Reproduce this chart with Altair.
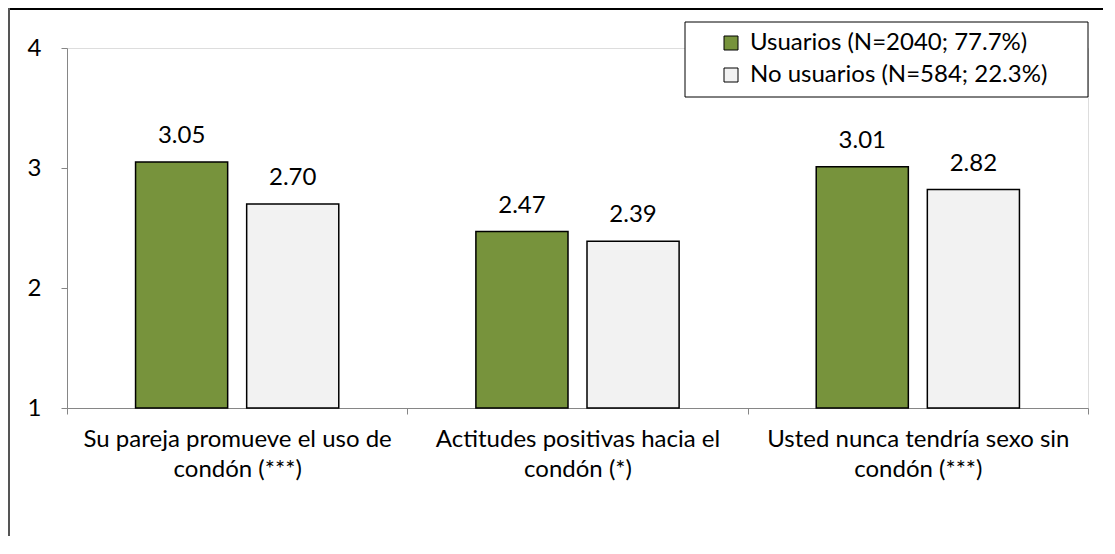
import altair as alt
import pandas as pd

categories = [
    "Su pareja promueve el uso de|condón (***)",
    "Actitudes positivas hacia el|condón (*)",
    "Usted nunca tendría sexo sin|condón (***)",
]
series = ["Usuarios (N=2040; 77.7%)", "No usuarios (N=584; 22.3%)"]
usuarios = [3.05, 2.47, 3.01]
no_usuarios = [2.70, 2.39, 2.82]
y_ticks = [1, 2, 3, 4]

rows = []
for c, a, b in zip(categories, usuarios, no_usuarios):
    rows.append({"cat": c, "serie": series[0], "value": a})
    rows.append({"cat": c, "serie": series[1], "value": b})
df = pd.DataFrame(rows)

FONT = "Lato"
FS = 24
W, H = 1021, 360

x = alt.X("cat:N", sort=categories, title=None,
          scale=alt.Scale(paddingInner=0, paddingOuter=0),
          axis=alt.Axis(labelAngle=0, labelExpr="split(datum.label, '|')",
                        labelFontSize=FS, labelFont=FONT, labelColor="#000000",
                        labelPadding=13, labelLineHeight=30, labelLimit=400,
                        tickBand="extent", tickSize=6, tickColor="#868686",
                        domainColor="#868686", labelBaseline="top"))
xo = alt.XOffset("serie:N", sort=series,
                 scale=alt.Scale(paddingInner=0.171, paddingOuter=0.617))
y = alt.Y("value:Q", title=None,
          scale=alt.Scale(domain=[1, 4], zero=False, nice=False),
          axis=alt.Axis(values=y_ticks, format="d", grid=False, labelFontSize=FS,
                        labelFont=FONT, labelColor="#000000", labelPadding=20,
                        tickSize=6, tickColor="#868686", domainColor="#868686"))
color = alt.Color("serie:N", sort=series,
                  scale=alt.Scale(domain=series, range=["#77933C", "#F2F2F2"]),
                  legend=alt.Legend(title=None, orient="none", legendX=652, legendY=-17,
                                    symbolType="square", symbolSize=196,
                                    symbolStrokeColor="#000000", symbolStrokeWidth=1,
                                    labelFontSize=FS, labelFont=FONT, labelColor="#000000",
                                    rowPadding=8, padding=0, labelOffset=7, labelLimit=400))

base = alt.Chart(df)
bars = base.mark_bar(stroke="#000000", strokeWidth=1.5).encode(
    x=x, xOffset=xo, y=y, y2=alt.datum(1), color=color)
labels = base.mark_text(fontSize=FS, font=FONT, color="#000000", baseline="alphabetic", dy=-19).encode(
    x=x, xOffset=xo, y=y, text=alt.Text("value:Q", format=".2f"))

one = pd.DataFrame({"a": [0]})
legend_box = alt.Chart(one).mark_rect(fill="#FFFFFF", stroke="#000000", strokeWidth=1).encode(
    x=alt.value(618), x2=alt.value(1021), y=alt.value(-26), y2=alt.value(49))
top_border = alt.Chart(one).mark_rule(color="#000000", strokeWidth=2).encode(
    x=alt.value(-59), x2=alt.value(1040), y=alt.value(-39))
left_border = alt.Chart(one).mark_rule(color="#555555", strokeWidth=2).encode(
    x=alt.value(-58), y=alt.value(-40), y2=alt.value(500))

chart = alt.layer(top_border, left_border, legend_box, bars, labels).properties(
    width=W, height=H,
    autosize=alt.AutoSizeParams(type="none"),
    padding={"left": 59, "top": 40, "right": 15, "bottom": 128},
).configure_view(stroke=None).configure(font=FONT)

chart.save("out.html", embed_options={"renderer": "svg", "actions": False})
